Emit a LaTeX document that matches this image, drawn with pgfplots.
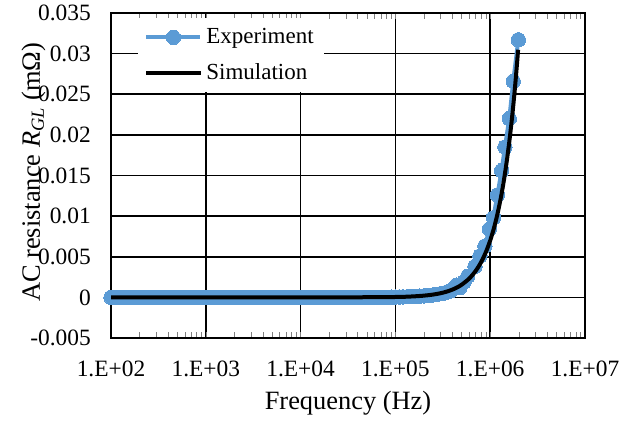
\documentclass[border=0pt]{standalone}
\usepackage{fontspec}
\setmainfont{Liberation Serif}
\usepackage{pgfplots}
\pgfplotsset{compat=1.18}
\definecolor{ExpBlue}{HTML}{5B9BD5}

\begin{document}
\begin{tikzpicture}
\useasboundingbox (-55.5pt,-42.5pt) rectangle (265.5pt,169pt);
\begin{axis}[
    at={(0,0)}, anchor=south west,
    scale only axis,
    width=237pt, height=162.5pt,
    clip=false,
    clip marker paths=true,
    xmode=log,
    xmin=1e2, xmax=1e7,
    ymin=-0.005, ymax=0.035,
    scaled y ticks=false,
    xtick={1e2,1e3,1e4,1e5,1e6,1e7},
    xticklabels={1.E+02,1.E+03,1.E+04,1.E+05,1.E+06,1.E+07},
    ytick={-0.005,0,0.005,0.01,0.015,0.02,0.025,0.03,0.035},
    yticklabels={-0.005,0,0.005,0.01,0.015,0.02,0.025,0.03,0.035},
    minor xtick={},
    major tick length=0pt,
    grid=major,
    major grid style={black, line width=0.75pt},
    axis line style={black, line width=0.8pt},
    tick label style={font=\fontsize{11.7}{14}\selectfont},
    xticklabel style={yshift=-8pt},
    yticklabel style={xshift=-6.6pt},
    xlabel={Frequency (Hz)},
    ylabel={AC resistance \textit{R}\textsubscript{\textit{GL}} (mΩ)},
    label style={font=\fontsize{13.2}{15}\selectfont},
    xlabel style={at={(axis description cs:0.5,0)}, anchor=base, yshift=-35.75pt},
    ylabel style={at={(axis description cs:-0.1498,0.51)}, anchor=base},
    legend style={
        at={(0.057,0.985)}, anchor=north west,
        draw=none, fill=white,
        font=\fontsize{11.5}{13}\selectfont,
        row sep=4.5pt,
        inner sep=3pt,
    },
    legend cell align=left,
    legend image code/.code={
        \draw[mark repeat=2,mark phase=2,#1] plot coordinates {(0pt,0pt) (13.5pt,0pt) (27pt,0pt)};
    },
]
\addplot[color=ExpBlue, line width=2pt, mark=*, mark size=3.6pt,
    mark options={fill=ExpBlue, draw=ExpBlue, line width=0pt}] coordinates {
(100,0.00000) (110,0.00001) (120,0.00001) (130,0.00000) (150,-0.00001) (160,0.00000)
(180,0.00000) (200,0.00001) (220,0.00001) (240,0.00000) (270,0.00000) (300,-0.00001)
(330,-0.00001) (360,0.00000) (390,0.00000) (430,0.00001) (470,0.00001) (510,0.00000)
(560,0.00000) (620,0.00000) (680,0.00000) (750,-0.00001) (820,-0.00001) (910,0.00000)
(1000,0.00000) (1100,0.00001) (1200,0.00001) (1300,0.00000) (1500,0.00000) (1600,-0.00001)
(1800,-0.00001) (2000,0.00000) (2200,0.00000) (2400,0.00001) (2700,0.00001) (3000,0.00000)
(3300,0.00000) (3600,0.00000) (3900,0.00000) (4300,-0.00001) (4700,-0.00001) (5100,0.00000)
(5600,0.00000) (6200,0.00001) (6800,0.00001) (7500,0.00000) (8200,0.00000) (9100,0.00000)
(10000,0.00000) (11000,-0.00001) (12000,-0.00001) (13000,0.00000) (15000,0.00000) (16000,0.00001)
(18000,0.00001) (20000,0.00000) (22000,0.00000) (24000,-0.00001) (27000,-0.00001) (30000,0.00000)
(33000,0.00000) (36000,0.00001) (39000,0.00001) (43000,0.00000) (47000,0.00000) (51000,-0.00001)
(56000,-0.00001) (62000,0.00001) (68000,0.00002) (75000,0.00002) (82000,0.00002) (91000,0.00003)
(100000,0.00004) (110000,0.00005) (120000,0.00006) (135000,0.00008) (150000,0.00010) (165000,0.00012)
(180000,0.00015) (200000,0.00018) (220000,0.00022) (245000,0.00028) (270000,0.00035) (300000,0.00045)
(330000,0.00055) (360000,0.00070) (390000,0.00085) (440000,0.0015)
(480000,0.0012) (530000,0.0019) (580000,0.0026) (690000,0.0038) (780000,0.0051)
(880000,0.0063) (980000,0.0084) (1080000,0.0098) (1190000,0.0126) (1320000,0.0156)
(1430000,0.0185) (1590000,0.0220) (1750000,0.0266) (1980000,0.0317)
};
\addlegendentry{Experiment}
\addplot[color=black, line width=2pt, smooth] coordinates {
(100,0) (1000,0) (10000,0.000001) (30000,0.000005) (100000,0.000047)
(150000,0.000114) (200000,0.000213) (250000,0.000346) (300000,0.000513)
(350000,0.000718) (400000,0.00096) (450000,0.00124) (500000,0.00156)
(600000,0.00231) (700000,0.00323) (800000,0.00431) (900000,0.00557)
(1000000,0.0070) (1100000,0.00861) (1200000,0.0104) (1300000,0.01237)
(1400000,0.01453) (1500000,0.01688) (1600000,0.01941) (1700000,0.02214)
(1800000,0.02506) (1900000,0.02819) (1970000,0.03048)
};
\addlegendentry{Simulation}
\end{axis}
\end{tikzpicture}
\end{document}
